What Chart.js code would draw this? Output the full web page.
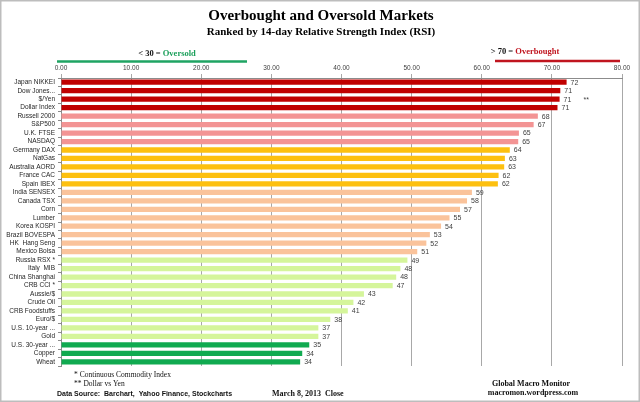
<!DOCTYPE html>
<html>
<head>
<meta charset="utf-8">
<script src="https://cdn.jsdelivr.net/npm/chart.js@4.4.1/dist/chart.umd.min.js"></script>
<style>
  html, body { margin: 0; padding: 0; background: #fff; }
  #rsi { display: block; }
</style>
</head>
<body>
<canvas id="rsi" width="640" height="402"></canvas>
<script>
// markets, ranked by 14-day RSI
const markets = ['Japan NIKKEI', 'Dow Jones...', '$/Yen', 'Dollar Index', 'Russell 2000', 'S&P500',
  'U.K. FTSE', 'NASDAQ', 'Germany DAX', 'NatGas', 'Australia AORD', 'France CAC', 'Spain IBEX',
  'India SENSEX', 'Canada TSX', 'Corn', 'Lumber', 'Korea KOSPI', 'Brazil BOVESPA', 'HK  Hang Seng',
  'Mexico Bolsa', 'Russia RSX *', 'Italy  MIB', 'China Shanghai', 'CRB CCI *', 'Aussie/$',
  'Crude Oil', 'CRB Foodstuffs', 'Euro/$', 'U.S. 10-year ...', 'Gold', 'U.S. 30-year ...',
  'Copper', 'Wheat'];
const rsi = [72.1, 71.2, 71.1, 70.8, 68.0, 67.4, 65.3, 65.2, 64.0, 63.3, 63.2, 62.4, 62.3,
  58.6, 57.9, 56.9, 55.4, 54.2, 52.6, 52.1, 50.8, 49.4, 48.4, 47.8, 47.3, 43.2,
  41.7, 40.9, 38.4, 36.7, 36.7, 35.4, 34.4, 34.1];
const notes = ['', '', '**'];
const groupColors = ['#c00000', '#c00000', '#c00000', '#c00000',
  '#f39494', '#f39494', '#f39494', '#f39494',
  '#fdc010', '#fdc010', '#fdc010', '#fdc010', '#fdc010',
  '#fac39b', '#fac39b', '#fac39b', '#fac39b', '#fac39b', '#fac39b', '#fac39b', '#fac39b',
  '#d5f59b', '#d5f59b', '#d5f59b', '#d5f59b', '#d5f59b', '#d5f59b', '#d5f59b', '#d5f59b', '#d5f59b', '#d5f59b',
  '#10aa50', '#10aa50', '#10aa50'];
const xTicks = [0, 10, 20, 30, 40, 50, 60, 70, 80];

const serif = '"Liberation Serif", "Times New Roman", serif';
const sans = '"Liberation Sans", Arial, sans-serif';

// value labels at bar ends
const valueLabels = {
  id: 'valueLabels',
  afterDatasetsDraw(chart) {
    const ctx = chart.ctx;
    const meta = chart.getDatasetMeta(0);
    ctx.save();
    ctx.font = '7px ' + sans;
    ctx.fillStyle = '#404040';
    ctx.textBaseline = 'middle';
    meta.data.forEach((bar, i) => {
      ctx.fillText(Math.round(rsi[i]), bar.x + 4, bar.y + 0.5);
      if (notes[i]) ctx.fillText(notes[i], bar.x + 24, bar.y + 1);
    });
    ctx.restore();
  }
};

// titles, oversold/overbought markers, footnotes
const decorations = {
  id: 'decorations',
  afterDraw(chart) {
    const ctx = chart.ctx;
    ctx.save();
    ctx.fillStyle = '#000';
    ctx.textAlign = 'center';
    ctx.textBaseline = 'middle';
    ctx.font = 'bold 15px ' + serif;
    ctx.fillText('Overbought and Oversold Markets', 321, 16);
    ctx.font = 'bold 11px ' + serif;
    ctx.fillText('Ranked by 14-day Relative Strength Index (RSI)', 321, 32);

    function twoPart(a, b, colB, cx, y) {
      ctx.font = 'bold 8.5px ' + serif;
      const wa = ctx.measureText(a).width, wb = ctx.measureText(b).width;
      const x0 = cx - (wa + wb) / 2;
      ctx.textAlign = 'left';
      ctx.fillStyle = '#111';
      ctx.fillText(a, x0, y);
      ctx.fillStyle = colB;
      ctx.fillText(b, x0 + wa, y);
    }
    twoPart('< 30 = ', 'Oversold', '#1a9f5a', 167, 54);
    twoPart('> 70 = ', 'Overbought', '#c0151f', 525, 52);

    ctx.lineWidth = 2.5;
    ctx.strokeStyle = '#1fa463';
    ctx.beginPath(); ctx.moveTo(57, 61.5); ctx.lineTo(247, 61.5); ctx.stroke();
    ctx.strokeStyle = '#c0151f';
    ctx.beginPath(); ctx.moveTo(495, 61); ctx.lineTo(620, 61); ctx.stroke();

    ctx.textAlign = 'left';
    ctx.fillStyle = '#111';
    ctx.font = '7.5px ' + serif;
    ctx.fillText('* Continuous Commodity Index', 74, 375);
    ctx.fillText('** Dollar vs Yen', 74, 384);
    ctx.font = 'bold 7px ' + sans;
    ctx.fillText('Data Source:  Barchart,  Yahoo Finance, Stockcharts', 57, 394);
    ctx.font = 'bold 8px ' + serif;
    ctx.fillText('March 8, 2013  Close', 272, 394);
    ctx.textAlign = 'center';
    ctx.fillText('Global Macro Monitor', 531, 384);
    ctx.fillText('macromon.wordpress.com', 533, 393);

    ctx.strokeStyle = '#bdbdbd';
    ctx.lineWidth = 1.5;
    ctx.strokeRect(0.75, 0.75, 638.5, 400.5);
    ctx.restore();
  }
};

new Chart(document.getElementById('rsi'), {
  type: 'bar',
  data: {
    labels: markets,
    datasets: [{
      data: rsi,
      backgroundColor: groupColors,
      borderWidth: 0,
      barPercentage: 0.62,
      categoryPercentage: 1.0
    }]
  },
  options: {
    indexAxis: 'y',
    responsive: false,
    animation: false,
    layout: { padding: { top: 60, right: 18, bottom: 36, left: 0 } },
    plugins: { legend: { display: false }, tooltip: { enabled: false } },
    scales: {
      x: {
        position: 'top',
        min: 0,
        max: 80,
        afterBuildTicks: (s) => { s.ticks = xTicks.map(v => ({ value: v })); },
        afterFit: (s) => { s.height = 18; },
        ticks: {
          callback: (v) => Number(v).toFixed(2),
          font: { size: 6.5, family: sans },
          color: '#404040',
          padding: 2,
          maxRotation: 0
        },
        grid: { color: '#a8a8a8', tickLength: 4, lineWidth: 1 },
        border: { color: '#8c8c8c' }
      },
      y: {
        afterFit: (s) => { s.width = 61; },
        ticks: {
          font: { size: 6.5, family: sans },
          color: '#262626',
          padding: 3,
          autoSkip: false
        },
        grid: { drawOnChartArea: false, tickLength: 3, color: '#8c8c8c', offset: true },
        border: { color: '#8c8c8c' }
      }
    }
  },
  plugins: [valueLabels, decorations]
});
</script>
</body>
</html>
